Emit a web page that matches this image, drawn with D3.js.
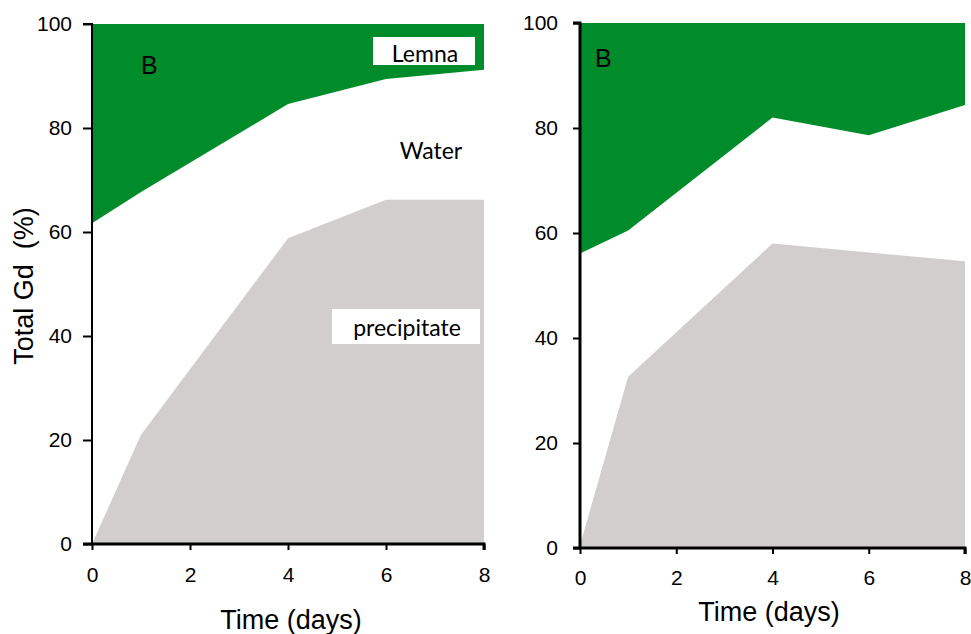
<!DOCTYPE html>
<html><head><meta charset="utf-8">
<script src="https://cdn.jsdelivr.net/npm/d3@7"></script>
<style>body{margin:0;background:#fff}</style>
</head><body>
<svg id="c" width="971" height="634"></svg>
<script>
const days = [0, 1, 4, 6, 8];
const leftLemnaLower = [61.7, 67.7, 84.6, 89.4, 91.2];
const leftPrecip = [0, 21, 58.8, 66.2, 66.2];
const rightLemnaLower = [56.1, 60.5, 82, 78.6, 84.4];
const rightPrecip = [0.5, 32.6, 58, 56.3, 54.6];
const xTicks = [0, 2, 4, 6, 8];
const yTicks = [0, 20, 40, 60, 80, 100];

const svg = d3.select("#c");
const GREEN = "#008c2a", GRAY = "#d2cece";
const AX = "Liberation Sans, Arial, sans-serif";
const LBL = "Lato, 'Open Sans', sans-serif";

function panel(cfg) {
  const x = d3.scaleLinear().domain([0, 8]).range([cfg.x0, cfg.x1]);
  const y = d3.scaleLinear().domain([0, 100]).range([cfg.y0, cfg.y1]);
  const g = svg.append("g");
  const rows = days.map((d, i) => ({d, lem: cfg.lemna[i], pre: cfg.precip[i]}));
  g.append("path").datum(rows).attr("fill", GREEN)
    .attr("d", d3.area().x(r => x(r.d)).y0(r => y(100)).y1(r => y(r.lem)));
  g.append("path").datum(rows).attr("fill", GRAY)
    .attr("d", d3.area().x(r => x(r.d)).y0(r => y(0)).y1(r => y(r.pre)));

  const ya = g.append("g").attr("transform", `translate(${cfg.x0},0)`)
    .call(d3.axisLeft(y).tickValues(yTicks).tickSize(cfg.yts).tickPadding(cfg.ypad).tickFormat(d3.format("d")));
  ya.select(".domain").attr("stroke-width", cfg.sw).attr("d", `M${-cfg.yts},${y(100)}H0V${y(0)}`);
  ya.selectAll(".tick line").attr("stroke-width", 2);
  ya.selectAll("text").attr("font-family", AX).attr("font-size", 21).attr("fill", "#000");

  const xa = g.append("g").attr("transform", `translate(0,${cfg.y0})`)
    .call(d3.axisBottom(x).tickValues(xTicks).tickSize(6).tickPadding(cfg.xpad).tickFormat(d3.format("d")));
  xa.select(".domain").attr("stroke-width", 3).attr("d", `M${cfg.x0 - cfg.yts},0H${cfg.x1}V6`);
  xa.selectAll(".tick line").attr("stroke-width", 2);
  xa.selectAll("text").attr("font-family", AX).attr("font-size", 21).attr("fill", "#000");

  svg.append("text").attr("x", cfg.xlabX).attr("y", cfg.xlabY)
    .attr("text-anchor", "middle").attr("font-family", AX).attr("font-size", 27).text("Time (days)");
  svg.append("text").attr("x", cfg.bx).attr("y", cfg.by)
    .attr("font-family", AX).attr("font-size", 25).text("B");
  return {x, y};
}

panel({x0: 92, x1: 484, y0: 544, y1: 24, lemna: leftLemnaLower, precip: leftPrecip, sw: 2,
  yts: 9, ypad: 11, xpad: 17, xlabX: 291, xlabY: 629, bx: 141, by: 74});
panel({x0: 580, x1: 965, y0: 548, y1: 23, lemna: rightLemnaLower, precip: rightPrecip, sw: 3,
  yts: 7, ypad: 15, xpad: 16, xlabX: 769, xlabY: 621, bx: 595, by: 67});

svg.append("text").attr("transform", "translate(33,286) rotate(-90)")
  .attr("text-anchor", "middle").attr("font-family", AX).attr("font-size", 27)
  .attr("xml:space", "preserve").text("Total Gd  (%)");

// labels
svg.append("rect").attr("x", 373).attr("y", 37).attr("width", 102).attr("height", 28).attr("fill", "#fff");
svg.append("text").attr("x", 425).attr("y", 62).attr("text-anchor", "middle")
  .attr("font-family", LBL).attr("font-size", 23).text("Lemna");
svg.append("text").attr("x", 431).attr("y", 159).attr("text-anchor", "middle")
  .attr("font-family", LBL).attr("font-size", 23).text("Water");
svg.append("rect").attr("x", 332).attr("y", 309).attr("width", 148).attr("height", 35).attr("fill", "#fff");
svg.append("text").attr("x", 407).attr("y", 336).attr("text-anchor", "middle")
  .attr("font-family", LBL).attr("font-size", 23).text("precipitate");
</script>
</body></html>
